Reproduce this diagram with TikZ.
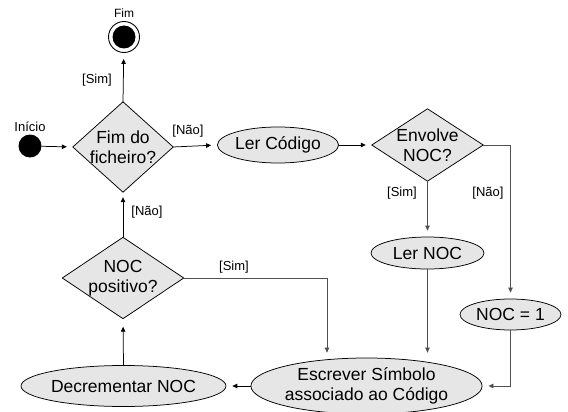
\documentclass[tikz,border=0pt]{standalone}
\usepackage{fontspec}
\setmainfont{Liberation Sans}
\usetikzlibrary{shapes.geometric,arrows.meta,backgrounds}

\definecolor{boxgray}{HTML}{E6E6E6}
\definecolor{linegray}{HTML}{505050}

\tikzset{
  every node/.style={align=center},
  bigtext/.style={font=\fontsize{17.5}{20}\selectfont},
  activity/.style={bigtext, ellipse, draw, fill=boxgray, line width=0.75pt, inner sep=0pt},
  decision/.style={bigtext, rectangle, inner sep=0pt},
  diamondfill/.style={draw, fill=boxgray, line width=0.75pt, line join=miter},
  guard/.style={font=\fontsize{13}{15}\selectfont, inner sep=0pt},
  flow/.style={draw=black, line width=0.75pt, -{Triangle[length=5pt,width=4.5pt]}, shorten >=6pt},
  grayflow/.style={flow, draw=linegray},
}

\begin{document}
\begin{tikzpicture}[x=1pt, y=-1pt]
  \useasboundingbox (0,0) rectangle (568,412);

  % start and end points
  \node[circle, fill=black, minimum size=23pt, inner sep=0pt] (inicio) at (30,146) {};
  \node[guard] (inicioLbl) at (30,127) {Início};
  \node[circle, draw, line width=0.9pt, fill=white, minimum size=31pt, inner sep=0pt] (fim) at (124,37) {};
  \node[circle, fill=black, minimum size=23pt, inner sep=0pt] (fimdot) at (fim.center) {};
  \node[guard, font=\fontsize{12}{14}\selectfont] (fimLbl) at (124,13) {Fim};

  % decisions (the diamonds are drawn behind, on the background layer)
  \node[decision, minimum width=100pt, minimum height=90pt] (d1) at (123,147) {Fim do\\ficheiro?};
  \node[decision, minimum width=111pt, minimum height=72pt] (d2) at (427.5,145) {Envolve\\NOC?};
  \node[decision, minimum width=121pt, minimum height=81pt] (d3) at (123,278) {NOC\\positivo?};

  % activities
  \node[activity, minimum width=110pt, minimum height=36pt] (lercod) at (278,145) {Ler Código};
  \node[activity, minimum width=113pt, minimum height=32pt] (lernoc) at (427.5,253) {Ler NOC};
  \node[activity, minimum width=101pt, minimum height=31pt] (noc1) at (510.5,314.5) {NOC = 1};
  \node[activity, minimum width=226pt, minimum height=56pt] (escrever) at (366.5,386) {Escrever Símbolo\\associado ao Código};
  \node[activity, minimum width=177pt, minimum height=41pt] (decr) at (123.5,386) {Decrementar NOC};

  \begin{scope}[on background layer]
    \path[diamondfill] (d1.north) -- (d1.east) -- (d1.south) -- (d1.west) -- cycle;
    \path[diamondfill] (d2.north) -- (d2.east) -- (d2.south) -- (d2.west) -- cycle;
    \path[diamondfill] (d3.north) -- (d3.east) -- (d3.south) -- (d3.west) -- cycle;
  \end{scope}

  % bend point of the [Sim] branch of "NOC positivo?"
  \coordinate (simdrop) at (327,386);

  % control flow
  \draw[flow] (inicio) -- (d1.west);
  \draw[flow] (d1.north) -- (fim);
  \draw[flow] (d1.east) -- (lercod.west);
  \draw[flow] (lercod) -- (d2.west);
  \draw[grayflow] (d2.south) -- (lernoc.north);
  \draw[grayflow] (d2.east) -| (noc1.north);
  \draw[grayflow, shorten >=5pt] (lernoc.south) -- (lernoc.south |- escrever.north);
  \draw[grayflow] (noc1.south) |- (escrever.east);
  \draw[grayflow, shorten >=5pt] (d3.east) -| (simdrop |- escrever.north);
  \draw[flow] (escrever.west) -- (decr.east);
  \draw[flow, shorten >=8pt] (decr.north) -- (d3.south);
  \draw[flow, shorten >=5pt] (d3.north) -- (d1.south);

  % guard labels
  \node[guard] (gSim1) at (97,80) {[Sim]};
  \node[guard] (gNao1) at (188,131) {[Não]};
  \node[guard] (gSim2) at (402,193) {[Sim]};
  \node[guard] (gNao2) at (488,193) {[Não]};
  \node[guard] (gNao3) at (147,212) {[Não]};
  \node[guard] (gSim3) at (234,267) {[Sim]};
\end{tikzpicture}
\end{document}
